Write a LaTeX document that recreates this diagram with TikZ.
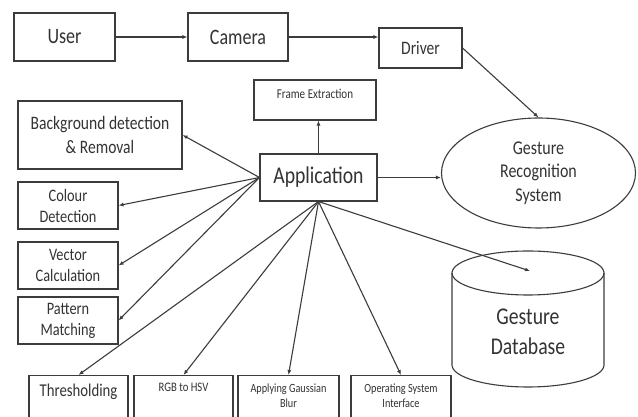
\documentclass[tikz,border=0pt]{standalone}
\usepackage{fontspec}
\setmainfont{Carlito}[FakeStretch=0.82]
\usetikzlibrary{arrows.meta,shapes.geometric}
\definecolor{linec}{HTML}{3C3C3C}
\definecolor{textc}{HTML}{333333}
\tikzset{
  box/.style={draw=linec,line width=1.1pt,text=textc,align=center,inner sep=0pt},
  fs/.style 2 args={font=\fontsize{#1}{#2}\selectfont},
  lowbox/.style={box,anchor=north,inner ysep=8pt,text depth=45pt,minimum width=#1},
  arr/.style={draw=linec,line width=1.1pt,-{Latex[length=5pt,width=4pt]}}
}
\begin{document}
\begin{tikzpicture}[x=1pt,y=1pt]
\clip (0,0) rectangle (638,417);
\fill[white] (0,0) rectangle (638,417);

% top row
\node[box,fs={22}{26},minimum width=101pt,minimum height=48pt] (user) at (64.5,380) {User};
\node[box,fs={22}{26},minimum width=100pt,minimum height=48pt] (cam) at (238,380) {Camera};
\node[box,fs={19}{23},minimum width=83pt,minimum height=40pt] (drv) at (420.5,369) {Driver};

% centre
\node[box,fs={13.5}{16},minimum width=122pt,minimum height=40pt,text depth=12pt] (fe) at (315,317) {Frame Extraction};
\node[box,fs={24}{28},minimum width=117pt,minimum height=47pt] (app) at (318.5,239.5) {Application};
\node[box,ellipse,fs={19.5}{23.5},minimum width=194pt,minimum height=110pt] (grs) at (538.5,244) {Gesture\\Recognition\\System};

% left column
\node[box,fs={19}{24},minimum width=164pt,minimum height=68pt] (bg) at (100,282) {Background detection\\\& Removal};
\foreach \n/\y/\t in {col/211.5/{Colour\\Detection},vec/151.5/{Vector\\Calculation},pat/96.5/{Pattern\\Matching}}
{
  \node[box,fs={17.5}{21},minimum width=100pt,minimum height=47pt] (\n) at (68,\y) {\t};
}

% bottom row
\node[lowbox=99pt,fs={18}{21}] (thr) at (78.5,42) {Thresholding};
\node[lowbox=99pt,fs={13}{15}] (rgb) at (183.5,42) {RGB to HSV};
\node[lowbox=101pt,fs={12.5}{15}] (gau) at (288.5,42) {Applying Gaussian\\Blur};
\node[lowbox=100pt,fs={12.5}{15}] (os) at (401,42) {Operating System\\Interface};

% database
\draw[linec,line width=1.1pt] (452,144) -- (452,52) arc[start angle=180,end angle=360,x radius=76,y radius=22] -- (604,144);
\draw[linec,line width=1.1pt] (528,144) ellipse [x radius=76,y radius=22];
\node[text=textc,align=center,fs={24}{30}] (db) at (528,85) {Gesture\\Database};
\coordinate (dbtop) at (530,146);

% connectors
\draw[arr] (user) -- (cam);
\draw[arr] (cam) -- (drv.west |- cam);
\draw[arr] (drv.east) -- (grs.north);
\draw[arr] (app.north) -- (app.north |- fe.south);
\draw[arr] (app.east) -- (app.east -| grs.west);
\foreach \n in {bg,col,vec,pat}
{
  \draw[arr] (app.west) -- (\n.east);
}
\foreach \n in {thr,rgb,gau,os}
{
  \draw[arr] (app.south) -- (\n.north);
}
\draw[arr] (app.south) -- (dbtop);
\end{tikzpicture}
\end{document}
